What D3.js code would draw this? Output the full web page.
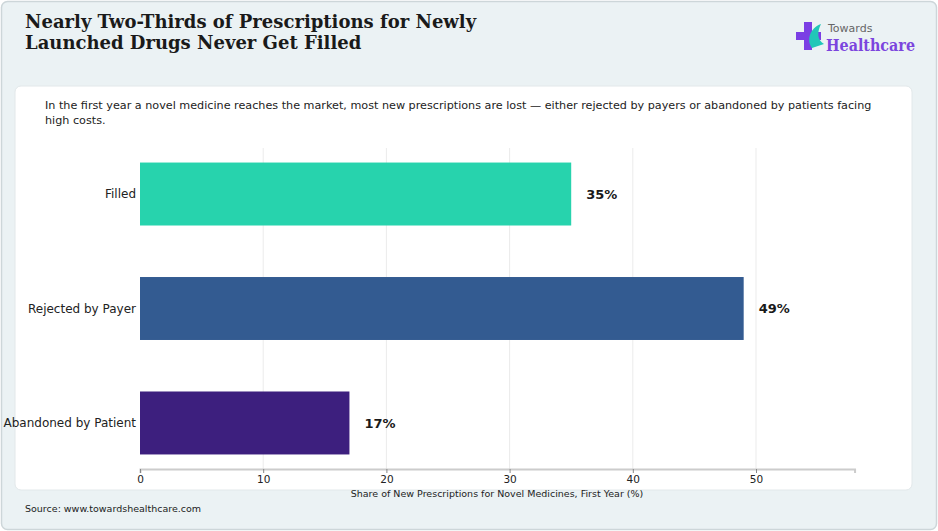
<!DOCTYPE html>
<html><head><meta charset="utf-8">
<script src="https://cdn.jsdelivr.net/npm/d3@7/dist/d3.min.js"></script>
<style>html,body{margin:0;padding:0;background:#fff;}svg{display:block;}</style>
</head><body><svg id="c" width="938" height="531"></svg>
<script>
const categories = ["Filled", "Rejected by Payer", "Abandoned by Patient"];
const values = [35, 49, 17];
const colors = ["#27d3ad", "#335b91", "#3d1f7e"];
const xTicks = [0, 10, 20, 30, 40, 50];
const title = ["Nearly Two-Thirds of Prescriptions for Newly", "Launched Drugs Never Get Filled"];
const subtitle = ["In the first year a novel medicine reaches the market, most new prescriptions are lost \u2014 either rejected by payers or abandoned by patients facing", "high costs."];
const xLabel = "Share of New Prescriptions for Novel Medicines, First Year (%)";
const source = "Source: www.towardshealthcare.com";

const svg = d3.select("#c");
svg.append("rect").attr("x",1.5).attr("y",1.5).attr("width",935).attr("height",528).attr("rx",6)
  .attr("fill","#ebf2f4").attr("stroke","#cdd6d9").attr("stroke-width",1.5);
svg.append("rect").attr("x",15).attr("y",86).attr("width",897).attr("height",404).attr("rx",6)
  .attr("fill","#ffffff").attr("stroke","#e2e8ea");

svg.append("g").selectAll("text").data(title).join("text")
  .attr("x",25).attr("y",(d,i)=>28+i*21).text(d=>d)
  .attr("font-family","DejaVu Serif").attr("font-weight","bold").attr("font-size",18).attr("fill","#1a1a1a");

svg.append("g").selectAll("text").data(subtitle).join("text")
  .attr("x",45).attr("y",(d,i)=>109+i*15).text(d=>d)
  .attr("font-family","DejaVu Sans").attr("font-size",11.2).attr("fill","#222");

// logo
const logo = svg.append("g");
logo.append("path").attr("d","M804,22 h8 v10 h9 v8 h-9 v10 h-8 v-10 h-8 v-8 h8 z").attr("fill","#7b3fe4");
logo.append("path").attr("d","M812,48 C806,40 810,28 821,24 C817,32 817,40 824,44 Z").attr("fill","#22c7b8");
logo.append("text").attr("x",828).attr("y",32).text("Towards").attr("font-family","DejaVu Sans").attr("font-size",11).attr("fill","#666");
logo.append("text").attr("x",826).attr("y",51).text("Healthcare").attr("font-family","DejaVu Serif").attr("font-weight","bold").attr("font-size",17).attr("fill","#7b45de").attr("textLength",89).attr("lengthAdjust","spacingAndGlyphs");

const x = d3.scaleLinear().domain([0,58]).range([140,140+616*58/50]);
const y = d3.scaleBand().domain(categories).range([148,469]).paddingInner(0.45).paddingOuter(0.127);

svg.append("g").selectAll("line").data(xTicks.filter(t=>t>0)).join("line")
  .attr("x1",d=>x(d)).attr("x2",d=>x(d)).attr("y1",148).attr("y2",469)
  .attr("stroke","#ebebeb").attr("stroke-width",1);

svg.append("g").selectAll("rect").data(categories).join("rect")
  .attr("x",x(0)).attr("y",d=>y(d)).attr("height",y.bandwidth())
  .attr("width",(d,i)=>x(values[i])-x(0)).attr("fill",(d,i)=>colors[i]);

svg.append("g").selectAll("text").data(categories).join("text")
  .attr("x",(d,i)=>x(values[i])+15).attr("y",d=>y(d)+y.bandwidth()/2).attr("dy","0.35em")
  .text((d,i)=>values[i]+"%").attr("font-family","DejaVu Sans").attr("font-weight","bold").attr("font-size",13).attr("fill","#1a1a1a");

svg.append("g").selectAll("text").data(categories).join("text")
  .attr("x",136).attr("y",d=>y(d)+y.bandwidth()/2).attr("dy","0.35em").attr("text-anchor","end")
  .text(d=>d).attr("font-family","DejaVu Sans").attr("font-size",12).attr("fill","#222");

const ax = svg.append("g").attr("transform","translate(0,469)")
  .call(d3.axisBottom(x).tickValues(xTicks).tickSize(4).tickPadding(3));
ax.select(".domain").attr("stroke","#cccccc").attr("stroke-width",2);
ax.selectAll(".tick line").attr("stroke","#888");
ax.selectAll("text").attr("font-family","DejaVu Sans").attr("font-size",10.5).attr("fill","#222");

svg.append("text").attr("x",497).attr("y",497).attr("text-anchor","middle").text(xLabel)
  .attr("font-family","DejaVu Sans").attr("font-size",9.5).attr("fill","#222");
svg.append("text").attr("x",25).attr("y",512).text(source)
  .attr("font-family","DejaVu Sans").attr("font-size",9.5).attr("fill","#222");
</script></body></html>
